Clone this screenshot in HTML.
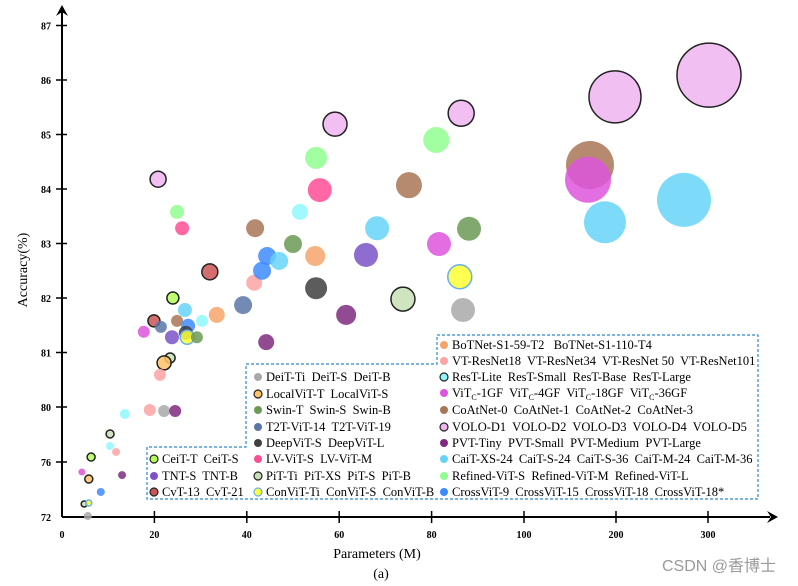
<!DOCTYPE html>
<html><head><meta charset="utf-8"><style>
body{margin:0;background:#fff}
svg{display:block;font-family:"Liberation Serif",serif}
#legend text{white-space:pre}
</style></head><body>
<svg id="chart" width="798" height="586" viewBox="0 0 798 586" xmlns="http://www.w3.org/2000/svg">
<g id="axes"></g>
<g id="marks"></g>
<g id="legend"></g>
<text x="377" y="558" font-size="14" text-anchor="middle">Parameters (M)</text>
<text x="381" y="578" font-size="14" text-anchor="middle">(a)</text>
<text x="0" y="0" font-size="14" text-anchor="middle" transform="translate(27,270) rotate(-90)">Accuracy(%)</text>
<text x="662" y="571" font-size="16" fill="#9a9a9a" font-family="Liberation Sans,'Noto Sans CJK SC',sans-serif">CSDN @香博士</text>
</svg>
<script>
const xTicks=[0,20,40,60,80,100,200,300];
const yTicks=[72,76,80,81,82,83,84,85,86,87];
const groupColors=["#a9a9a9","#ffc266","#6b9a55","#5a75a8","#404040","#ff4d94","#c5e0b4","#ffff33","#b3ff55","#7b52c7","#cc5555","#f4a46a","#ffa3a3","#8ff8ff","#dd55dd","#a87556","#f0b4f0","#7f2a80","#66d4f8","#90ff90","#3d8bff"];
const groupStroke=["none","#222","none","none","none","none","#222","#6ab0e8","#222","none","#222","none","none","none","none","none","#222","none","none","none","none"];
const names=["VOLO-D5","VOLO-D4","VOLO-D3","VOLO-D2","VOLO-D1","CoAtNet-3","ViTc-36GF","CaiT-M-36","CaiT-M-24","CoAtNet-2","Refined-ViT-L","Refined-ViT-M","LV-ViT-M","CaiT-S-36","Swin-B","ViTc-18GF","PiT-B","ConViT-B","DeiT-B","CoAtNet-1","TNT-B","DeepViT-L","BoTNet-S1-110-T4","VT-ResNet101","PVT-Large","PVT-Medium","Swin-S","CrossViT-18*","CrossViT-18","CaiT-S-24","ResT-Large","LV-ViT-S","Refined-ViT-S","CvT-21","T2T-ViT-19","CoAtNet-0","CeiT-S","CaiT-XS-24","ResT-Base","BoTNet-S1-59-T2","CvT-13","T2T-ViT-14","ViTc-4GF","TNT-S","CrossViT-15","DeepViT-S","ConViT-S","Swin-T","PiT-S","LocalViT-S","VT-ResNet50","VT-ResNet34","DeiT-S","PVT-Small","ResT-Small","PiT-XS","ResT-Lite","VT-ResNet18","CeiT-T","ViTc-1GF","LocalViT-T","PVT-Tiny","CrossViT-9","PiT-Ti","ConViT-Ti","DeiT-Ti"];
const params=[301.1,198.9,86.4,59.1,20.8,171.7,169.6,273.9,188.0,75.1,81.0,55.0,55.8,68.2,88.1,81.6,73.8,86.1,86.8,41.8,65.8,55.0,54.8,41.6,61.5,44.2,50.0,44.4,43.3,47.0,51.5,26.0,24.9,32.0,39.2,24.9,24.0,26.6,30.3,33.5,19.9,21.4,17.7,23.8,27.3,26.8,27.1,29.2,23.4,22.1,21.2,19.0,22.1,24.5,13.6,10.4,10.4,11.7,6.3,4.3,5.8,13.0,8.4,4.8,5.8,5.6];
const accuracy=[86.09,85.69,85.39,85.19,84.18,84.44,84.17,83.80,83.39,84.07,84.90,84.57,83.98,83.28,83.27,82.99,81.98,82.39,81.78,83.28,82.79,82.18,82.77,82.28,81.69,81.19,82.99,82.77,82.50,82.68,83.58,83.28,83.58,82.48,81.87,81.58,82.00,81.78,81.58,81.69,81.58,81.47,81.38,81.28,81.49,81.36,81.28,81.28,80.90,80.81,80.59,79.78,79.71,79.71,79.49,78.04,77.16,76.73,76.36,75.27,74.76,75.05,73.82,72.95,73.02,72.07];
const sizes=[32,26,13,12,8,24,23,27,21,13,13,11,12,12,12,12,12,12,12,9,12,11,10,8,10,8,9,9,9,9,8,7,7,8,9,6,6,7,6,8,6,6,6,7,7,7,7,6,5,7,6,6,6,6,5,4,4,4,4,3.5,4,4,4,3,3,4];
const groups=[16,16,16,16,16,15,14,18,18,15,19,19,5,18,2,14,6,7,0,15,9,4,11,12,17,17,2,20,20,18,13,5,19,10,3,15,8,18,13,11,10,3,14,9,20,4,7,2,6,1,12,12,0,17,13,6,13,12,8,14,1,17,20,6,7,0];
const xBreaks=[0,100,300], xPix=[62,524,708];
const yBreaks=[72,80,87], yPix=[517,407,25.5];
function pw(v,b,p){let i=v<=b[1]?0:1;return p[i]+(v-b[i])/(b[i+1]-b[i])*(p[i+1]-p[i]);}
function xs(v){return pw(v,xBreaks,xPix);}
function ys(v){return pw(v,yBreaks,yPix);}
const NS="http://www.w3.org/2000/svg";
function mk(tag,attrs,parent){const e=document.createElementNS(NS,tag);for(const k in attrs)e.setAttribute(k,attrs[k]);parent.appendChild(e);return e;}
const ax=document.getElementById('axes');
let l=mk('line',{x1:62,y1:517,x2:62,y2:12,stroke:'#000','stroke-width':2},ax);


l=mk('path',{d:'M56,16 L62,5 L68,16 L62,12 Z',fill:'#000'},ax);


l=mk('line',{x1:62,y1:517,x2:770,y2:517,stroke:'#000','stroke-width':2},ax);


l=mk('path',{d:'M767,511 L778,517 L767,523 L771,517 Z',fill:'#000'},ax);


xTicks.forEach(t=>{const x=xs(t);
 if(t>0){const tk=mk('line',{x1:x,y1:511,x2:x,y2:523,stroke:'#000','stroke-width':1.5},ax);
 
 }
 const tx=mk('text',{x:x,y:538,'font-size':10,'font-weight':'bold','text-anchor':'middle'},ax);tx.textContent=t;
 
 
});
yTicks.forEach(t=>{const y=ys(t);
 if(t>72){const tk=mk('line',{x1:56,y1:y,x2:67,y2:y,stroke:'#000','stroke-width':1.5},ax);
 
 }
 const tx=mk('text',{x:51,y:y+4,'font-size':10,'font-weight':'bold','text-anchor':'end'},ax);tx.textContent=t;
 
 
});
const mg=document.getElementById('marks');
names.forEach((n,i)=>{const g=groups[i];
 const c=mk('circle',{cx:xs(params[i]),cy:ys(accuracy[i]),r:sizes[i],fill:groupColors[g],'fill-opacity':0.85,stroke:groupStroke[g],'stroke-width':groupStroke[g]==='none'?0:1.5},mg);
 
 
});
const lg=document.getElementById('legend');
l=mk('path',{d:'M437,335 H758 V499 H147 V447 H246 V364 H437 Z',fill:'none',stroke:'#2f86d0','stroke-width':1.2,'stroke-dasharray':'3,2'},lg);


const legendEntries=[
[444,345,11,"BoTNet-S1-59-T2   BoTNet-S1-110-T4"],
[444,361,12,"VT-ResNet18  VT-ResNet34  VT-ResNet 50  VT-ResNet101"],
[444,377,13,"ResT-Lite  ResT-Small  ResT-Base  ResT-Large",true],
[444,393,14,"VITC"],
[444,410,15,"CoAtNet-0  CoAtNet-1  CoAtNet-2  CoAtNet-3"],
[444,427,16,"VOLO-D1  VOLO-D2  VOLO-D3  VOLO-D4  VOLO-D5"],
[444,443,17,"PVT-Tiny  PVT-Small  PVT-Medium  PVT-Large"],
[444,459,18,"CaiT-XS-24  CaiT-S-24  CaiT-S-36  CaiT-M-24  CaiT-M-36"],
[444,476,19,"Refined-ViT-S  Refined-ViT-M  Refined-ViT-L"],
[444,492,20,"CrossViT-9  CrossViT-15  CrossViT-18  CrossViT-18*"],
[258,377,0,"DeiT-Ti  DeiT-S  DeiT-B"],
[258,394,1,"LocalViT-T  LocalViT-S"],
[258,410,2,"Swin-T  Swin-S  Swin-B"],
[258,427,3,"T2T-ViT-14  T2T-ViT-19"],
[258,443,4,"DeepViT-S  DeepViT-L"],
[258,459,5,"LV-ViT-S  LV-ViT-M"],
[258,476,6,"PiT-Ti  PiT-XS  PiT-S  PiT-B"],
[258,492,7,"ConViT-Ti  ConViT-S  ConViT-B"],
[154,459,8,"CeiT-T  CeiT-S"],
[154,476,9,"TNT-S  TNT-B"],
[154,492,10,"CvT-13  CvT-21"]];
legendEntries.forEach(e=>{const [x,y,g,txt,ring]=e;
 const st=ring?'#222':groupStroke[g];
 const c=mk('circle',{cx:x,cy:y,r:4,fill:groupColors[g],stroke:st,'stroke-width':st==='none'?0:1.2},lg);
 
 
 const t=mk('text',{x:x+8,y:y+4,'font-size':12.5},lg);
 
 
 if(txt==="VITC"){
  ["1GF","4GF","18GF","36GF"].forEach((s,k)=>{
   const a=mk('tspan',{},t);a.textContent=(k?"  ":"")+"ViT";
   const b=mk('tspan',{'font-size':8,dy:3},t);b.textContent="C";
   const d=mk('tspan',{dy:-3},t);d.textContent="-"+s;
  });
 } else t.textContent=txt;
});
</script>
</body></html>
